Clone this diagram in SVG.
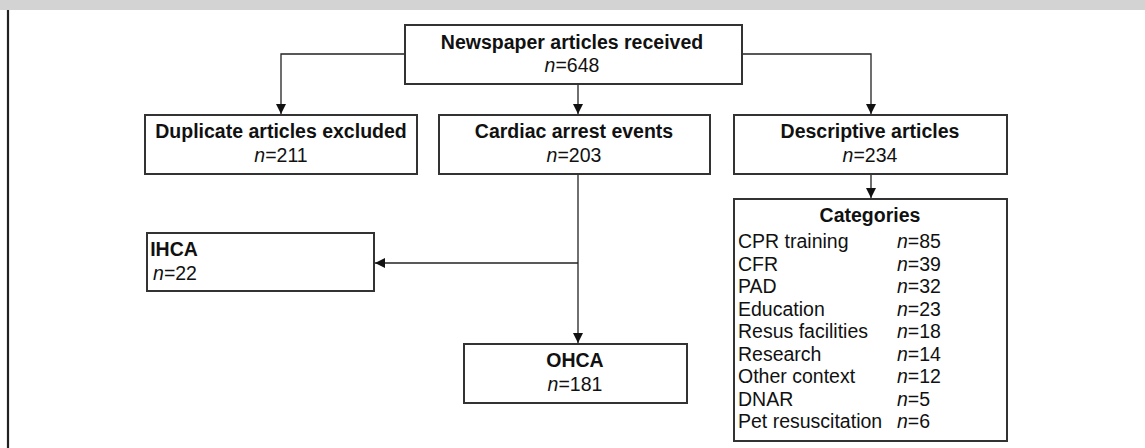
<svg xmlns="http://www.w3.org/2000/svg" width="1145" height="448" viewBox="0 0 1145 448">
<style>
.box{fill:#fff;stroke:#333;stroke-width:2}
.t{font-family:"Liberation Sans",Arial,sans-serif;font-size:19.5px;fill:#111}
.b{font-weight:bold}
.c{text-anchor:middle}
.i{font-style:italic}
.conn{stroke:#222;stroke-width:1.3;fill:none}
</style>
<defs>
<marker id="ah" viewBox="0 0 10 10" refX="10" refY="5" markerWidth="10" markerHeight="10" markerUnits="userSpaceOnUse" orient="auto">
<path d="M0,0 L10,5 L0,10 Z" fill="#111"/>
</marker>
</defs>
<rect x="0" y="0" width="1145" height="10" fill="#d3d3d3"/>
<line x1="8" y1="10" x2="8" y2="448" stroke="#222" stroke-width="2.2"/>
<g id="connectors">
<path class="conn" d="M405,54 H281 V114" marker-end="url(#ah)"/>
<path class="conn" d="M742,54 H871 V114" marker-end="url(#ah)"/>
<path class="conn" d="M578,84 V114" marker-end="url(#ah)"/>
<path class="conn" d="M871,174 V198" marker-end="url(#ah)"/>
<path class="conn" d="M578,174 V343" marker-end="url(#ah)"/>
<path class="conn" d="M578,263 H375" marker-end="url(#ah)"/>
</g>
<g id="n_received">
<rect class="box" x="405" y="25" width="337" height="59"/>
<text class="t b c" x="572" y="49">Newspaper articles received</text>
<text class="t c" x="572" y="72"><tspan class="i">n</tspan>=648</text>
</g>
<g id="n_duplicate">
<rect class="box" x="145" y="115" width="272" height="59"/>
<text class="t b c" x="281" y="138">Duplicate articles excluded</text>
<text class="t c" x="281" y="162"><tspan class="i">n</tspan>=211</text>
</g>
<g id="n_cardiac">
<rect class="box" x="439" y="115" width="271" height="59"/>
<text class="t b c" x="574" y="138">Cardiac arrest events</text>
<text class="t c" x="574" y="162"><tspan class="i">n</tspan>=203</text>
</g>
<g id="n_descriptive">
<rect class="box" x="734" y="115" width="273" height="59"/>
<text class="t b c" x="870" y="138">Descriptive articles</text>
<text class="t c" x="870" y="162"><tspan class="i">n</tspan>=234</text>
</g>
<g id="n_ihca">
<rect class="box" x="147" y="233" width="227" height="58"/>
<text class="t b c" x="174" y="256">IHCA</text>
<text class="t c" x="175" y="280"><tspan class="i">n</tspan>=22</text>
</g>
<g id="n_ohca">
<rect class="box" x="464" y="344" width="223" height="59"/>
<text class="t b c" x="575" y="367">OHCA</text>
<text class="t c" x="575" y="391"><tspan class="i">n</tspan>=181</text>
</g>
<g id="n_categories">
<rect class="box" x="734" y="199" width="273" height="242"/>
<text class="t b c" x="870" y="222">Categories</text>
<g class="t">
<text x="738" y="248">CPR training</text><text x="897" y="248"><tspan class="i">n</tspan>=85</text>
<text x="738" y="270.5">CFR</text><text x="897" y="270.5"><tspan class="i">n</tspan>=39</text>
<text x="738" y="293">PAD</text><text x="897" y="293"><tspan class="i">n</tspan>=32</text>
<text x="738" y="315.5">Education</text><text x="897" y="315.5"><tspan class="i">n</tspan>=23</text>
<text x="738" y="338">Resus facilities</text><text x="897" y="338"><tspan class="i">n</tspan>=18</text>
<text x="738" y="360.5">Research</text><text x="897" y="360.5"><tspan class="i">n</tspan>=14</text>
<text x="738" y="383">Other context</text><text x="897" y="383"><tspan class="i">n</tspan>=12</text>
<text x="738" y="405.5">DNAR</text><text x="897" y="405.5"><tspan class="i">n</tspan>=5</text>
<text x="738" y="428">Pet resuscitation</text><text x="897" y="428"><tspan class="i">n</tspan>=6</text>
</g>
</g>
</svg>
